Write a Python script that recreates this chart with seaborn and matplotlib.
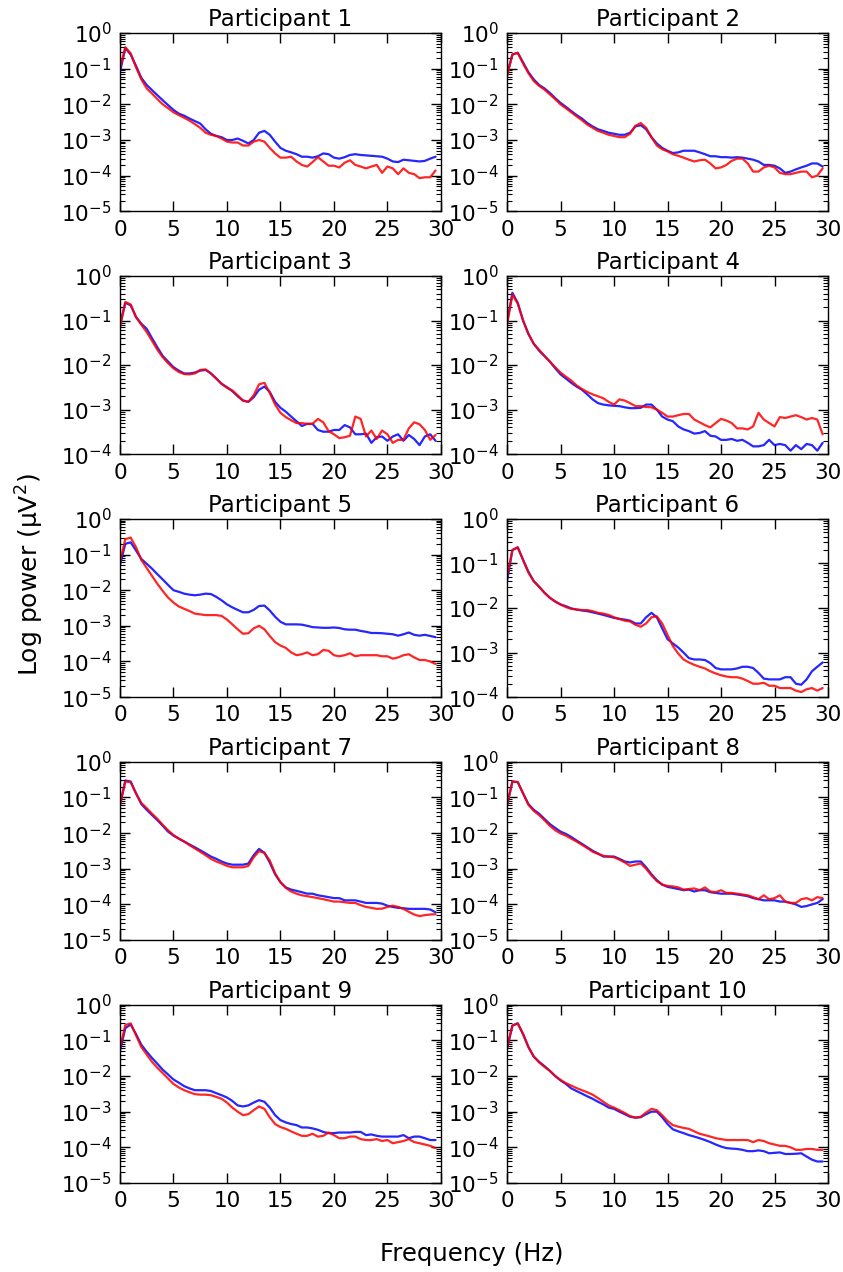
import numpy as np
import pandas as pd
import matplotlib
matplotlib.use("Agg")
import matplotlib.pyplot as plt
from matplotlib.ticker import LogLocator
import seaborn as sns

freqs = np.arange(0, 30, 0.5)

titles = [f"Participant {i}" for i in range(1, 11)]
ylims_low = [1e-5, 1e-5, 1e-4, 1e-4, 1e-5, 1e-4, 1e-5, 1e-5, 1e-5, 1e-5]
xticks = [0, 5, 10, 15, 20, 25, 30]

p1_blue = [8e-2, 3.8e-1, 2.5e-1, 1.2e-1, 5.5e-2, 3.5e-2, 2.5e-2, 1.8e-2, 1.3e-2, 9.5e-3,
           7e-3, 5.5e-3, 4.8e-3, 4e-3, 3.4e-3, 2.9e-3, 2e-3, 1.5e-3, 1.3e-3, 1.2e-3,
           1e-3, 1e-3, 1.1e-3, 9.5e-4, 8e-4, 1e-3, 1.6e-3, 1.8e-3, 1.4e-3, 9e-4,
           6e-4, 5e-4, 4.5e-4, 4e-4, 3.4e-4, 3.4e-4, 3.2e-4, 3.5e-4, 4.2e-4, 4e-4,
           3.2e-4, 3e-4, 3.3e-4, 3.8e-4, 4e-4, 3.8e-4, 3.7e-4, 3.6e-4, 3.5e-4, 3.4e-4,
           3e-4, 2.5e-4, 2.4e-4, 2.8e-4, 2.7e-4, 2.6e-4, 2.5e-4, 2.6e-4, 3e-4, 3.4e-4]
p1_red = [1e-1, 4e-1, 2.7e-1, 1.1e-1, 5e-2, 2.8e-2, 2e-2, 1.4e-2, 1e-2, 7.8e-3,
          6e-3, 5e-3, 4.2e-3, 3.5e-3, 2.8e-3, 2.2e-3, 1.6e-3, 1.4e-3, 1.3e-3, 1.1e-3,
          9e-4, 8.5e-4, 8.5e-4, 7e-4, 7e-4, 9e-4, 1e-3, 9e-4, 6e-4, 4.2e-4,
          3.2e-4, 3.2e-4, 3.4e-4, 2.5e-4, 2e-4, 1.8e-4, 2.4e-4, 3.3e-4, 2.5e-4, 1.9e-4,
          1.9e-4, 1.7e-4, 2.3e-4, 2.7e-4, 2e-4, 1.8e-4, 1.6e-4, 1.8e-4, 2e-4, 1.2e-4,
          1.8e-4, 1.6e-4, 1.1e-4, 1.6e-4, 1.2e-4, 1.1e-4, 8.5e-5, 9e-5, 9e-5, 1.4e-4]

p2_blue = [7e-2, 2.5e-1, 2.8e-1, 1.5e-1, 8e-2, 5e-2, 3.5e-2, 2.8e-2, 2.1e-2, 1.5e-2,
           1.1e-2, 8.5e-3, 6.5e-3, 5e-3, 4e-3, 3e-3, 2.4e-3, 2e-3, 1.8e-3, 1.6e-3,
           1.5e-3, 1.4e-3, 1.4e-3, 1.6e-3, 2.4e-3, 2.6e-3, 2e-3, 1.2e-3, 8e-4, 6e-4,
           5e-4, 4.3e-4, 4.5e-4, 5e-4, 5e-4, 5e-4, 4.5e-4, 4e-4, 3.5e-4, 3.5e-4,
           3.3e-4, 3.3e-4, 3.2e-4, 3.3e-4, 3.2e-4, 3e-4, 2.8e-4, 2.5e-4, 2e-4, 2e-4,
           1.9e-4, 1.6e-4, 1.2e-4, 1.3e-4, 1.5e-4, 1.7e-4, 1.9e-4, 2.2e-4, 2.2e-4, 1.8e-4]
p2_red = [6e-2, 2.5e-1, 2.8e-1, 1.4e-1, 7.5e-2, 4.5e-2, 3.3e-2, 2.6e-2, 1.9e-2, 1.4e-2,
          1e-2, 7.8e-3, 6e-3, 4.6e-3, 3.6e-3, 2.7e-3, 2.2e-3, 1.8e-3, 1.6e-3, 1.4e-3,
          1.3e-3, 1.2e-3, 1.2e-3, 1.5e-3, 2.5e-3, 3e-3, 2.2e-3, 1.2e-3, 7e-4, 5.5e-4,
          4.8e-4, 4e-4, 3.6e-4, 3.2e-4, 2.8e-4, 2.5e-4, 2.7e-4, 2.8e-4, 2.2e-4, 1.6e-4,
          1.7e-4, 2e-4, 2.6e-4, 3e-4, 3e-4, 2.2e-4, 1.3e-4, 1.3e-4, 1.7e-4, 1.9e-4,
          1.7e-4, 1.2e-4, 1.1e-4, 1.1e-4, 1.2e-4, 1.3e-4, 1.3e-4, 9e-5, 1e-4, 1.6e-4]

p3_blue = [8e-2, 2.5e-1, 2.2e-1, 1.2e-1, 8.5e-2, 6.5e-2, 4e-2, 2.5e-2, 1.6e-2, 1.2e-2,
           9e-3, 7.5e-3, 6.5e-3, 6.5e-3, 6.8e-3, 7.5e-3, 7.8e-3, 6.5e-3, 5e-3, 3.8e-3,
           3.2e-3, 2.6e-3, 2e-3, 1.6e-3, 1.5e-3, 1.9e-3, 2.8e-3, 3.3e-3, 2.5e-3, 1.5e-3,
           1.1e-3, 9e-4, 7e-4, 5.5e-4, 4.3e-4, 4.8e-4, 4.8e-4, 3.5e-4, 3.2e-4, 3.2e-4,
           3.5e-4, 3.5e-4, 4.5e-4, 4e-4, 2.8e-4, 2.8e-4, 2.9e-4, 1.8e-4, 2.4e-4, 2.5e-4,
           2e-4, 2.5e-4, 2.8e-4, 2e-4, 2.7e-4, 2.2e-4, 1.6e-4, 2.5e-4, 2.8e-4, 2e-4]
p3_red = [7e-2, 2.6e-1, 2.3e-1, 1.2e-1, 8e-2, 5.5e-2, 3.5e-2, 2.2e-2, 1.5e-2, 1.1e-2,
          8.5e-3, 7e-3, 6.3e-3, 6.2e-3, 6.5e-3, 7.8e-3, 8e-3, 6.5e-3, 5e-3, 3.8e-3,
          3.1e-3, 2.7e-3, 2.1e-3, 1.6e-3, 1.5e-3, 2.1e-3, 3.7e-3, 4e-3, 2.4e-3, 1.3e-3,
          8.5e-4, 6.8e-4, 5.8e-4, 5e-4, 5e-4, 4.8e-4, 4.8e-4, 6.2e-4, 5.2e-4, 3.3e-4,
          2.8e-4, 2.3e-4, 2.4e-4, 2.6e-4, 7e-4, 6.2e-4, 2.5e-4, 3.4e-4, 2.2e-4, 3.4e-4,
          2.8e-4, 1.8e-4, 2.1e-4, 2.1e-4, 3.8e-4, 5.2e-4, 4.7e-4, 3.5e-4, 2.1e-4, 2.7e-4]

p4_blue = [9e-2, 4.2e-1, 2.5e-1, 1e-1, 5e-2, 3e-2, 2.1e-2, 1.6e-2, 1.2e-2, 8.5e-3,
           6.2e-3, 5e-3, 4e-3, 3.3e-3, 2.8e-3, 2.2e-3, 1.7e-3, 1.4e-3, 1.3e-3, 1.25e-3,
           1.22e-3, 1.2e-3, 1.13e-3, 1.08e-3, 1.08e-3, 1.1e-3, 1.3e-3, 1.3e-3, 1e-3, 7e-4,
           6e-4, 5.5e-4, 4.2e-4, 3.6e-4, 3.3e-4, 2.9e-4, 3e-4, 3.3e-4, 2.6e-4, 2.5e-4,
           2.1e-4, 2.1e-4, 2.2e-4, 2e-4, 2.1e-4, 1.8e-4, 1.5e-4, 1.5e-4, 1.6e-4, 2.1e-4,
           1.6e-4, 1.7e-4, 1.6e-4, 1.2e-4, 1.6e-4, 1.3e-4, 1.7e-4, 1.6e-4, 1.2e-4, 1.8e-4]
p4_red = [8e-2, 3.8e-1, 2.4e-1, 1e-1, 5e-2, 3e-2, 2.2e-2, 1.6e-2, 1.2e-2, 9e-3,
          6.8e-3, 5.5e-3, 4.5e-3, 3.5e-3, 2.9e-3, 2.5e-3, 2.2e-3, 2e-3, 1.8e-3, 1.5e-3,
          1.3e-3, 1.7e-3, 1.6e-3, 1.4e-3, 1.2e-3, 1.2e-3, 1.15e-3, 1.13e-3, 1e-3, 8.5e-4,
          7e-4, 7e-4, 7.5e-4, 8e-4, 8e-4, 6e-4, 5.2e-4, 4.5e-4, 4e-4, 5e-4,
          6.2e-4, 5.7e-4, 5e-4, 3.8e-4, 3.8e-4, 3.6e-4, 4.2e-4, 8.5e-4, 6e-4, 5e-4,
          4.2e-4, 6.8e-4, 6.5e-4, 7e-4, 7.5e-4, 6.8e-4, 6e-4, 6.5e-4, 6e-4, 2.8e-4]

p5_blue = [5e-2, 2e-1, 2.2e-1, 1.3e-1, 7.5e-2, 5.5e-2, 4e-2, 2.8e-2, 2e-2, 1.4e-2,
           1e-2, 9e-3, 8e-3, 7.5e-3, 7.2e-3, 7.5e-3, 8e-3, 7.8e-3, 6.5e-3, 5.2e-3,
           4e-3, 3.3e-3, 2.8e-3, 2.4e-3, 2.4e-3, 2.8e-3, 3.6e-3, 3.7e-3, 2.7e-3, 1.8e-3,
           1.3e-3, 1.1e-3, 1.1e-3, 1.1e-3, 1.08e-3, 1e-3, 9.2e-4, 9e-4, 8.8e-4, 8.8e-4,
           9e-4, 8.7e-4, 8e-4, 7.8e-4, 7.8e-4, 7.2e-4, 6.8e-4, 6.3e-4, 6.3e-4, 6.2e-4,
           6e-4, 5.8e-4, 5.3e-4, 5.8e-4, 6.5e-4, 5.6e-4, 5.3e-4, 5.6e-4, 5.2e-4, 4.8e-4]
p5_red = [6e-2, 2.7e-1, 3e-1, 1.6e-1, 7e-2, 4.2e-2, 2.5e-2, 1.5e-2, 9.5e-3, 6.2e-3,
          4.5e-3, 3.5e-3, 3e-3, 2.6e-3, 2.2e-3, 2.1e-3, 2e-3, 2e-3, 2e-3, 1.9e-3,
          1.5e-3, 1.1e-3, 8e-4, 6e-4, 6.2e-4, 8.5e-4, 1e-3, 8e-4, 5.2e-4, 3.5e-4,
          2.8e-4, 2.4e-4, 1.8e-4, 1.5e-4, 1.6e-4, 1.8e-4, 1.5e-4, 1.6e-4, 2.1e-4, 2e-4,
          1.5e-4, 1.4e-4, 1.5e-4, 1.7e-4, 1.4e-4, 1.5e-4, 1.5e-4, 1.5e-4, 1.5e-4, 1.4e-4,
          1.4e-4, 1.2e-4, 1.3e-4, 1.5e-4, 1.6e-4, 1.3e-4, 1.1e-4, 1.1e-4, 1e-4, 8.5e-5]

p6_blue = [4e-2, 2e-1, 2.3e-1, 1.2e-1, 6.5e-2, 4e-2, 3e-2, 2.2e-2, 1.7e-2, 1.4e-2,
           1.2e-2, 1.1e-2, 9.8e-3, 9.2e-3, 8.8e-3, 8.5e-3, 8e-3, 7.5e-3, 7e-3, 6.5e-3,
           6e-3, 5.7e-3, 5.5e-3, 5.2e-3, 4.5e-3, 4.5e-3, 6.2e-3, 7.8e-3, 6.2e-3, 3.5e-3,
           2e-3, 1.6e-3, 1.3e-3, 1e-3, 7.5e-4, 7e-4, 7e-4, 6.8e-4, 5.8e-4, 4.5e-4,
           4.2e-4, 4.2e-4, 4.2e-4, 4.4e-4, 4.8e-4, 4.8e-4, 4.5e-4, 3.5e-4, 2.6e-4, 2.5e-4,
           2.5e-4, 2.5e-4, 2.8e-4, 2.8e-4, 2e-4, 1.9e-4, 2.5e-4, 3.8e-4, 4.8e-4, 6e-4]
p6_red = [5e-2, 2e-1, 2.3e-1, 1.2e-1, 6.2e-2, 4e-2, 3e-2, 2.2e-2, 1.7e-2, 1.4e-2,
          1.2e-2, 1.05e-2, 9.6e-3, 9.3e-3, 9e-3, 9e-3, 8.5e-3, 7.8e-3, 7.5e-3, 7e-3,
          6.2e-3, 5.7e-3, 5.2e-3, 5e-3, 4.2e-3, 3.8e-3, 4.5e-3, 6.2e-3, 6.5e-3, 4.5e-3,
          2.5e-3, 1.4e-3, 9.5e-4, 7e-4, 6e-4, 5.3e-4, 4.8e-4, 4.4e-4, 3.8e-4, 3.4e-4,
          3.1e-4, 2.9e-4, 2.8e-4, 2.8e-4, 2.6e-4, 2.3e-4, 2e-4, 2e-4, 2.1e-4, 1.8e-4,
          1.8e-4, 1.6e-4, 1.6e-4, 1.6e-4, 1.4e-4, 1.3e-4, 1.5e-4, 1.6e-4, 1.4e-4, 1.6e-4]

p7_blue = [6e-2, 3e-1, 2.8e-1, 1.3e-1, 6.5e-2, 4.5e-2, 3.2e-2, 2.3e-2, 1.6e-2, 1.1e-2,
           8.5e-3, 7e-3, 5.8e-3, 4.8e-3, 4e-3, 3.3e-3, 2.7e-3, 2.2e-3, 1.9e-3, 1.6e-3,
           1.4e-3, 1.3e-3, 1.3e-3, 1.3e-3, 1.4e-3, 2.4e-3, 3.6e-3, 2.8e-3, 1.5e-3, 7e-4,
           4.2e-4, 3e-4, 2.6e-4, 2.4e-4, 2.2e-4, 2e-4, 2e-4, 1.8e-4, 1.7e-4, 1.6e-4,
           1.5e-4, 1.5e-4, 1.3e-4, 1.3e-4, 1.3e-4, 1.2e-4, 1.1e-4, 1.1e-4, 1.1e-4, 1.05e-4,
           9.2e-5, 8.5e-5, 8e-5, 7.8e-5, 7.5e-5, 7.5e-5, 7.5e-5, 7.5e-5, 7.2e-5, 6e-5]
p7_red = [6e-2, 2.8e-1, 2.7e-1, 1.3e-1, 7e-2, 5e-2, 3.5e-2, 2.5e-2, 1.7e-2, 1.2e-2,
          8.8e-3, 7e-3, 5.8e-3, 4.6e-3, 3.7e-3, 3e-3, 2.4e-3, 1.9e-3, 1.6e-3, 1.4e-3,
          1.2e-3, 1.1e-3, 1.1e-3, 1.1e-3, 1.2e-3, 2.1e-3, 3.1e-3, 2.8e-3, 1.7e-3, 7.5e-4,
          4.2e-4, 2.9e-4, 2.3e-4, 2e-4, 1.8e-4, 1.7e-4, 1.6e-4, 1.5e-4, 1.4e-4, 1.3e-4,
          1.2e-4, 1.2e-4, 1.15e-4, 1.1e-4, 1.1e-4, 9.5e-5, 8.5e-5, 8e-5, 7.5e-5, 7.6e-5,
          8.5e-5, 9.2e-5, 8.5e-5, 7.5e-5, 6.2e-5, 5.2e-5, 4.7e-5, 5e-5, 5.2e-5, 5.3e-5]

p8_blue = [6e-2, 2.8e-1, 2.7e-1, 1.3e-1, 6.5e-2, 4.5e-2, 3.5e-2, 2.5e-2, 1.8e-2, 1.4e-2,
           1.1e-2, 9.5e-3, 7.8e-3, 6.2e-3, 5e-3, 4e-3, 3.2e-3, 2.7e-3, 2.2e-3, 2.2e-3,
           2.2e-3, 1.9e-3, 1.6e-3, 1.5e-3, 1.6e-3, 1.6e-3, 1.1e-3, 7e-4, 4.8e-4, 3.6e-4,
           3.1e-4, 2.9e-4, 2.7e-4, 2.5e-4, 2.6e-4, 2.3e-4, 2.5e-4, 2.5e-4, 2.2e-4, 2.1e-4,
           2e-4, 2e-4, 2e-4, 1.9e-4, 1.8e-4, 1.7e-4, 1.5e-4, 1.4e-4, 1.3e-4, 1.3e-4,
           1.3e-4, 1.2e-4, 1.2e-4, 1.1e-4, 1e-4, 8.5e-5, 9e-5, 1e-4, 1.1e-4, 1.4e-4]
p8_red = [6e-2, 2.8e-1, 2.7e-1, 1.3e-1, 6.2e-2, 4.2e-2, 3.2e-2, 2.3e-2, 1.6e-2, 1.2e-2,
          9.8e-3, 8.5e-3, 7e-3, 5.8e-3, 4.7e-3, 3.8e-3, 3e-3, 2.6e-3, 2.3e-3, 2.2e-3,
          2.1e-3, 1.8e-3, 1.5e-3, 1.2e-3, 1.3e-3, 1.4e-3, 1e-3, 6.5e-4, 4.5e-4, 3.6e-4,
          3.3e-4, 3.2e-4, 3e-4, 2.6e-4, 2.7e-4, 2.8e-4, 2.5e-4, 3e-4, 2.3e-4, 2.2e-4,
          2.5e-4, 2.1e-4, 2.1e-4, 2e-4, 1.9e-4, 1.8e-4, 1.6e-4, 1.4e-4, 1.8e-4, 1.4e-4,
          1.5e-4, 1.8e-4, 1.2e-4, 1.1e-4, 1.1e-4, 1.4e-4, 1.5e-4, 1.3e-4, 1.6e-4, 1.5e-4]

p9_blue = [5e-2, 2.2e-1, 2.8e-1, 1.5e-1, 7.5e-2, 4.8e-2, 3.2e-2, 2.2e-2, 1.5e-2, 1.1e-2,
           8e-3, 6.5e-3, 5.2e-3, 4.5e-3, 4e-3, 4e-3, 4e-3, 3.8e-3, 3.3e-3, 2.9e-3,
           2.5e-3, 2e-3, 1.5e-3, 1.4e-3, 1.5e-3, 1.8e-3, 2.1e-3, 1.9e-3, 1.3e-3, 8e-4,
           5.8e-4, 5e-4, 4.5e-4, 4.2e-4, 3.6e-4, 3.6e-4, 3.4e-4, 3.1e-4, 2.7e-4, 2.5e-4,
           2.5e-4, 2.6e-4, 2.6e-4, 2.6e-4, 2.7e-4, 2.7e-4, 2.2e-4, 2.3e-4, 2.1e-4, 2e-4,
           2e-4, 2e-4, 2e-4, 2.2e-4, 1.8e-4, 2e-4, 2e-4, 1.8e-4, 1.6e-4, 1.6e-4]
p9_red = [6e-2, 2.7e-1, 3e-1, 1.4e-1, 6.5e-2, 4e-2, 2.5e-2, 1.7e-2, 1.2e-2, 8.5e-3,
          6e-3, 4.8e-3, 4e-3, 3.5e-3, 3.1e-3, 3e-3, 3e-3, 2.9e-3, 2.6e-3, 2.3e-3,
          1.8e-3, 1.3e-3, 1e-3, 8e-4, 8.5e-4, 1.1e-3, 1.4e-3, 1.2e-3, 7e-4, 4.5e-4,
          3.7e-4, 3.3e-4, 2.8e-4, 2.4e-4, 2.1e-4, 2.1e-4, 2.4e-4, 2e-4, 2.1e-4, 2.6e-4,
          2.2e-4, 1.8e-4, 1.8e-4, 2e-4, 2e-4, 1.7e-4, 1.6e-4, 1.6e-4, 1.7e-4, 1.5e-4,
          1.6e-4, 1.3e-4, 1.4e-4, 1.5e-4, 1.7e-4, 1.4e-4, 1.3e-4, 1.2e-4, 1.1e-4, 9.5e-5]

p10_blue = [6e-2, 2.6e-1, 3e-1, 1.5e-1, 6.5e-2, 3.5e-2, 2.5e-2, 1.9e-2, 1.4e-2, 1e-2,
            7.5e-3, 6e-3, 4.5e-3, 3.8e-3, 3.2e-3, 2.7e-3, 2.3e-3, 1.9e-3, 1.6e-3, 1.3e-3,
            1.2e-3, 1e-3, 8.5e-4, 7.2e-4, 6.8e-4, 7e-4, 8.5e-4, 1e-3, 1e-3, 7e-4,
            4.5e-4, 3.2e-4, 2.8e-4, 2.5e-4, 2.2e-4, 2e-4, 1.8e-4, 1.6e-4, 1.4e-4, 1.2e-4,
            1.05e-4, 9.5e-5, 9.2e-5, 9e-5, 8.5e-5, 7.8e-5, 7.8e-5, 8.2e-5, 7.8e-5, 6.8e-5,
            7e-5, 7.2e-5, 6.5e-5, 6.5e-5, 6.6e-5, 6.8e-5, 5.5e-5, 4.5e-5, 4e-5, 4e-5]
p10_red = [6e-2, 2.6e-1, 3e-1, 1.5e-1, 6.5e-2, 3.5e-2, 2.4e-2, 1.8e-2, 1.4e-2, 1e-2,
           7.8e-3, 6.3e-3, 5.4e-3, 4.6e-3, 4e-3, 3.5e-3, 3e-3, 2.4e-3, 1.9e-3, 1.5e-3,
           1.3e-3, 1.1e-3, 9.2e-4, 7.5e-4, 6.8e-4, 7.2e-4, 9.5e-4, 1.2e-3, 1.1e-3, 8e-4,
           5.5e-4, 4.2e-4, 3.8e-4, 3.5e-4, 3.3e-4, 2.8e-4, 2.4e-4, 2.2e-4, 2e-4, 1.8e-4,
           1.7e-4, 1.6e-4, 1.6e-4, 1.6e-4, 1.6e-4, 1.6e-4, 1.4e-4, 1.6e-4, 1.5e-4, 1.3e-4,
           1.2e-4, 1.1e-4, 1.1e-4, 1e-4, 8.5e-5, 8.5e-5, 9e-5, 9e-5, 8.5e-5, 8.5e-5]

blue_series = [p1_blue, p2_blue, p3_blue, p4_blue, p5_blue,
               p6_blue, p7_blue, p8_blue, p9_blue, p10_blue]
red_series = [p1_red, p2_red, p3_red, p4_red, p5_red,
              p6_red, p7_red, p8_red, p9_red, p10_red]

sns.set_style("ticks", rc={
    "axes.edgecolor": "black", "text.color": "black",
    "xtick.color": "black", "ytick.color": "black",
    "axes.labelcolor": "black",
})
plt.rcParams["font.family"] = ["DejaVu Sans"]
plt.rcParams["axes.unicode_minus"] = False

fig = plt.figure(figsize=(8.43, 12.72), dpi=100)
axes = fig.subplots(5, 2)
fig.subplots_adjust(left=0.1423, right=0.9822, top=0.974, bottom=0.070,
                    wspace=0.206, hspace=0.363)

for i, ax in enumerate(axes.flat):
    sns.lineplot(x=freqs, y=blue_series[i], ax=ax, color="blue", lw=1.6, alpha=0.85)
    sns.lineplot(x=freqs, y=red_series[i], ax=ax, color="red", lw=1.6, alpha=0.85)
    ax.set_yscale("log")
    ax.set_xlim(0, 30)
    ax.set_ylim(ylims_low[i], 1)
    ax.yaxis.set_major_locator(LogLocator(base=10, numticks=12))
    ax.yaxis.set_minor_locator(LogLocator(base=10, subs=np.arange(2, 10), numticks=12))
    ax.set_xticks(xticks)
    ax.set_title(titles[i], fontsize=16.5, pad=5)
    ax.tick_params(which="both", direction="in", top=True, right=True,
                   labelsize=15.5, pad=6)
    ax.tick_params(which="major", length=7, width=1)
    ax.tick_params(which="minor", length=3.5, width=0.8)
    for sp in ax.spines.values():
        sp.set_linewidth(1.0)
        sp.set_color("black")
    ax.set_xlabel("")
    ax.set_ylabel("")

fig.text(0.036, 0.548, "Log power (μV$^2$)", rotation=90, fontsize=18,
         ha="center", va="center")
fig.text(0.56, 0.005, "Frequency (Hz)", fontsize=17.5, ha="center", va="bottom")

fig.savefig("out.png", dpi=100, facecolor="white")
